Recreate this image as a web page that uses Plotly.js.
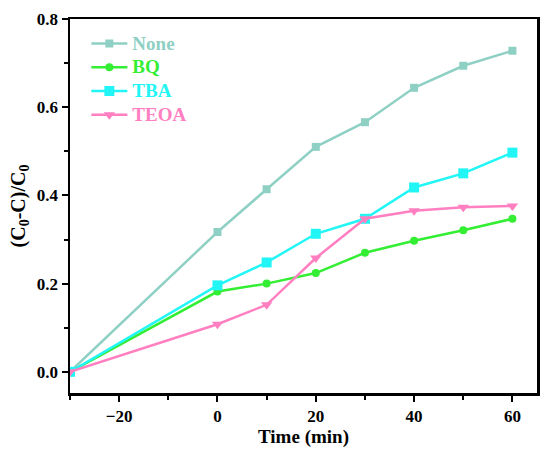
<!DOCTYPE html>
<html>
<head>
<meta charset="utf-8">
<script src="https://cdn.plot.ly/plotly-3.0.1.min.js"></script>
<style>html,body{margin:0;padding:0;background:#fff;}#chart{width:550px;height:456px;}</style>
</head>
<body>
<div id="chart"></div>
<script>
var time = [-30, 0, 10, 20, 30, 40, 50, 60];
var none = [0, 0.317, 0.414, 0.510, 0.566, 0.644, 0.694, 0.728];
var bq   = [0, 0.182, 0.200, 0.224, 0.270, 0.297, 0.321, 0.347];
var tba  = [0, 0.196, 0.248, 0.313, 0.347, 0.418, 0.450, 0.497];
var teoa = [0, 0.108, 0.152, 0.258, 0.347, 0.365, 0.373, 0.376];
var seriesNames = ['None', 'BQ', 'TBA', 'TEOA'];
var colors = ['#8FD0C4', '#33EE33', '#22F5F5', '#FF7FC0'];
var symbols = ['square', 'circle', 'square', 'triangle-down'];
var sizes = [8, 8, 10, 10];
var data = [none, bq, tba, teoa];

var traces = data.map(function(y, i) {
  return {
    x: time, y: y, type: 'scatter', mode: 'lines+markers',
    name: '<span style="color:' + colors[i] + ';font-size:19px">' + seriesNames[i] + '</span>',
    line: {color: colors[i], width: 2.5},
    marker: {color: colors[i], symbol: symbols[i], size: sizes[i]}
  };
});

var font = {family: '"Liberation Serif", "Times New Roman", serif', color: '#000'};
var layout = {
  width: 550, height: 456,
  margin: {l: 70, r: 13, t: 19, b: 63},
  paper_bgcolor: '#fff', plot_bgcolor: '#fff',
  showlegend: true,
  legend: {x: 0.035, y: 0.98, xanchor: 'left', yanchor: 'top', bgcolor: 'rgba(0,0,0,0)',
           font: {family: font.family, size: 16, weight: 'bold'}, tracegroupgap: 0, itemwidth: 36},
  xaxis: {
    range: [-30, 65], tickvals: [-20, 0, 20, 40, 60], ticktext: ['\u221220', '0', '20', '40', '60'],
    ticks: 'outside', ticklen: 6, tickwidth: 2, tickcolor: '#000',
    showline: true, linewidth: 2.5, linecolor: '#000', mirror: true,
    showgrid: false, zeroline: false,
    minor: {dtick: 10, tick0: 0, ticks: 'outside', ticklen: 4, tickwidth: 2, tickcolor: '#000', showgrid: false},
    tickfont: {family: font.family, size: 17, weight: 'bold', color: '#000'},
    title: {text: 'Time (min)', font: {family: font.family, size: 19, weight: 'bold', color: '#000'}, standoff: 4}
  },
  yaxis: {
    range: [-0.048, 0.8], tickvals: [0, 0.2, 0.4, 0.6, 0.8], ticktext: ['0.0', '0.2', '0.4', '0.6', '0.8'],
    ticks: 'outside', ticklen: 6, tickwidth: 2, tickcolor: '#000',
    showline: true, linewidth: 2.5, linecolor: '#000', mirror: true,
    showgrid: false, zeroline: false,
    minor: {dtick: 0.1, tick0: 0, ticks: 'outside', ticklen: 4, tickwidth: 2, tickcolor: '#000', showgrid: false},
    tickfont: {family: font.family, size: 17, weight: 'bold', color: '#000'},
    title: {text: '(C<sub>0</sub>-C)/C<sub>0</sub>', font: {family: font.family, size: 20, weight: 'bold', color: '#000'}, standoff: 6}
  }
};
Plotly.newPlot('chart', traces, layout, {displayModeBar: false, staticPlot: true});
</script>
</body>
</html>
